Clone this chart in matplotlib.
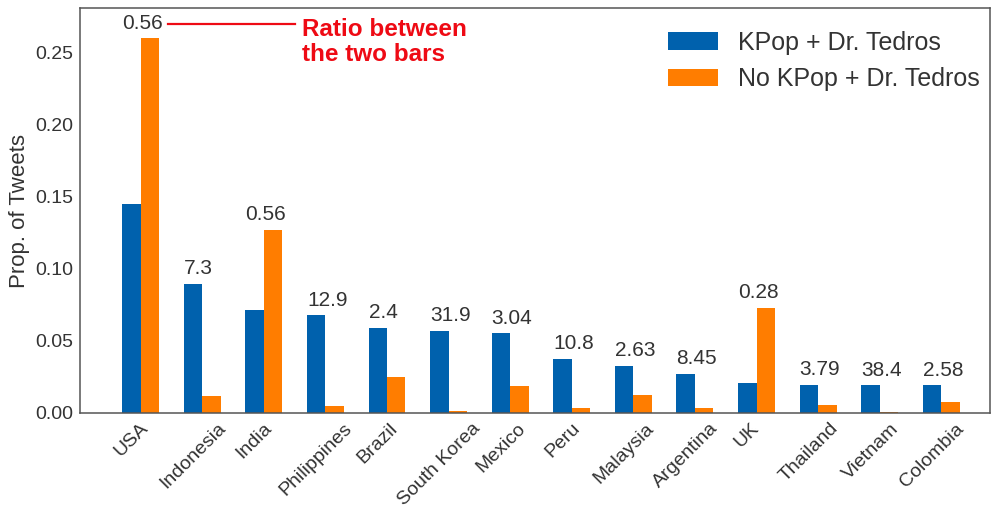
"""Proporção de tweets por país: KPop + Dr. Tedros vs. sem KPop."""

import matplotlib

matplotlib.use("Agg")
import matplotlib.pyplot as plt
import numpy as np

plt.rcParams["font.family"] = ["Liberation Sans", "DejaVu Sans"]

countries = ["USA", "Indonesia", "India", "Philippines", "Brazil", "South Korea",
             "Mexico", "Peru", "Malaysia", "Argentina", "UK", "Thailand",
             "Vietnam", "Colombia"]
kpop = [0.1454, 0.0894, 0.0713, 0.0678, 0.0593, 0.0569, 0.0553, 0.0373,
        0.0329, 0.0271, 0.0208, 0.0197, 0.0192, 0.0192]
no_kpop = [0.2600, 0.0120, 0.1270, 0.0051, 0.0248, 0.0016, 0.0185, 0.0035,
           0.0127, 0.0035, 0.0731, 0.0053, 0.0009, 0.0076]
ratio_labels = ["0.56", "7.3", "0.56", "12.9", "2.4", "31.9", "3.04", "10.8",
                "2.63", "8.45", "0.28", "3.79", "38.4", "2.58"]

BLUE = "#0061ad"
ORANGE = "#ff7d00"
RED = "#ee0a14"
TEXT = "#333333"
WIDTH = 0.3

fig = plt.figure(figsize=(9.91, 5.13), dpi=100)
ax = fig.add_axes([0.081, 0.195, 0.918, 0.789])

# barras azuis centradas nos ticks, laranjas ao lado
x = np.arange(len(countries))
ax.bar(x, kpop, WIDTH, color=BLUE, label="KPop + Dr. Tedros")
ax.bar(x + WIDTH, no_kpop, WIDTH, color=ORANGE, label="No KPop + Dr. Tedros")

for xi, a, b, lab in zip(x, kpop, no_kpop, ratio_labels):
    ax.text(xi - WIDTH / 2, max(a, b) + 0.004, lab, ha="left", va="bottom",
            fontsize=15, color=TEXT)

# nota explicativa ligada ao primeiro rótulo
y_note = max(kpop[0], no_kpop[0]) + 0.010
ax.plot([0.60, 2.66], [y_note, y_note], color=RED, lw=1.6, clip_on=False)
ax.text(2.77, y_note + 0.0042, "Ratio between\nthe two bars", ha="left", va="top",
        fontsize=17.5, fontweight="bold", color=RED, linespacing=1.12)

ax.set_xlim(-0.83, 13.94)
ax.set_ylim(0, 0.281)
ax.set_yticks(np.arange(0, 0.26, 0.05))
ax.set_yticklabels([f"{v:.2f}" for v in np.arange(0, 0.26, 0.05)])
ax.set_xticks(x)
ax.set_xticklabels(countries, rotation=45, ha="center")
ax.tick_params(axis="both", length=0, labelsize=14, labelcolor=TEXT, pad=5)
ax.set_ylabel("Prop. of Tweets", fontsize=16, color=TEXT)

for sp in ax.spines.values():
    sp.set_color("#555555")
    sp.set_linewidth(1.1)

ax.legend(loc="upper right", bbox_to_anchor=(1.013, 1.0), frameon=False,
          fontsize=18, labelcolor=TEXT)

fig.savefig("out.png", dpi=100)
